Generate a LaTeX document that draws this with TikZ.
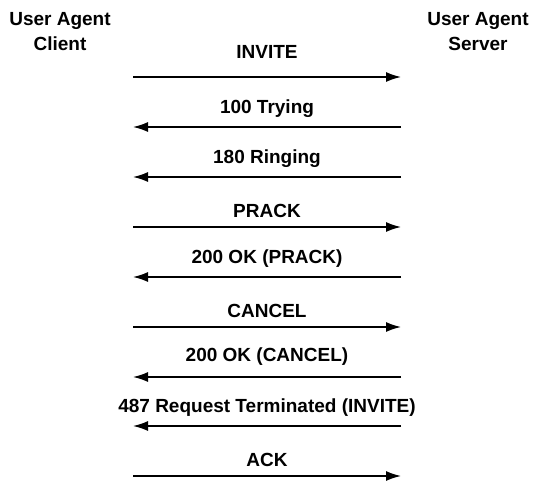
\documentclass[tikz,border=0pt]{standalone}
\usepackage{fontspec}
\setmainfont{Liberation Sans}
\usetikzlibrary{arrows.meta}
\begin{document}
\begin{tikzpicture}[x=1pt,y=-1pt,
  lbl/.style={font=\bfseries\fontsize{19}{22}\selectfont, inner sep=0pt},
  hdr/.style={font=\bfseries\fontsize{19}{25}\selectfont, align=center, inner sep=0pt},
  msg/.style={line width=1.5pt, -{Latex[length=15pt,width=10pt]}},
]
\useasboundingbox (0,0) rectangle (544,482);
% endpoints
\node[hdr] (uac) at (60,32) {User Agent\\Client};
\node[hdr] (uas) at (478,32) {User Agent\\Server};
% message rows
\foreach \i/\y in {1/77,2/127,3/177,4/227,5/277,6/327,7/377,8/426,9/476}{
  \coordinate (c\i) at (133,\y);
  \coordinate (s\i) at (401,\y);
}
\draw[msg] (c1) -- node[lbl, above=18pt] {INVITE} (s1);
\draw[msg] (s2) -- node[lbl, above=9pt] {100 Trying} (c2);
\draw[msg] (s3) -- node[lbl, above=9pt] {180 Ringing} (c3);
\draw[msg] (c4) -- node[lbl, above=9pt] {PRACK} (s4);
\draw[msg] (s5) -- node[lbl, above=9pt] {200 OK (PRACK)} (c5);
\draw[msg] (c6) -- node[lbl, above=9pt] {CANCEL} (s6);
\draw[msg] (s7) -- node[lbl, above=11pt] {200 OK (CANCEL)} (c7);
\draw[msg] (s8) -- node[lbl, above=9pt] {487 Request Terminated (INVITE)} (c8);
\draw[msg] (c9) -- node[lbl, above=9pt] {ACK} (s9);
\end{tikzpicture}
\end{document}
